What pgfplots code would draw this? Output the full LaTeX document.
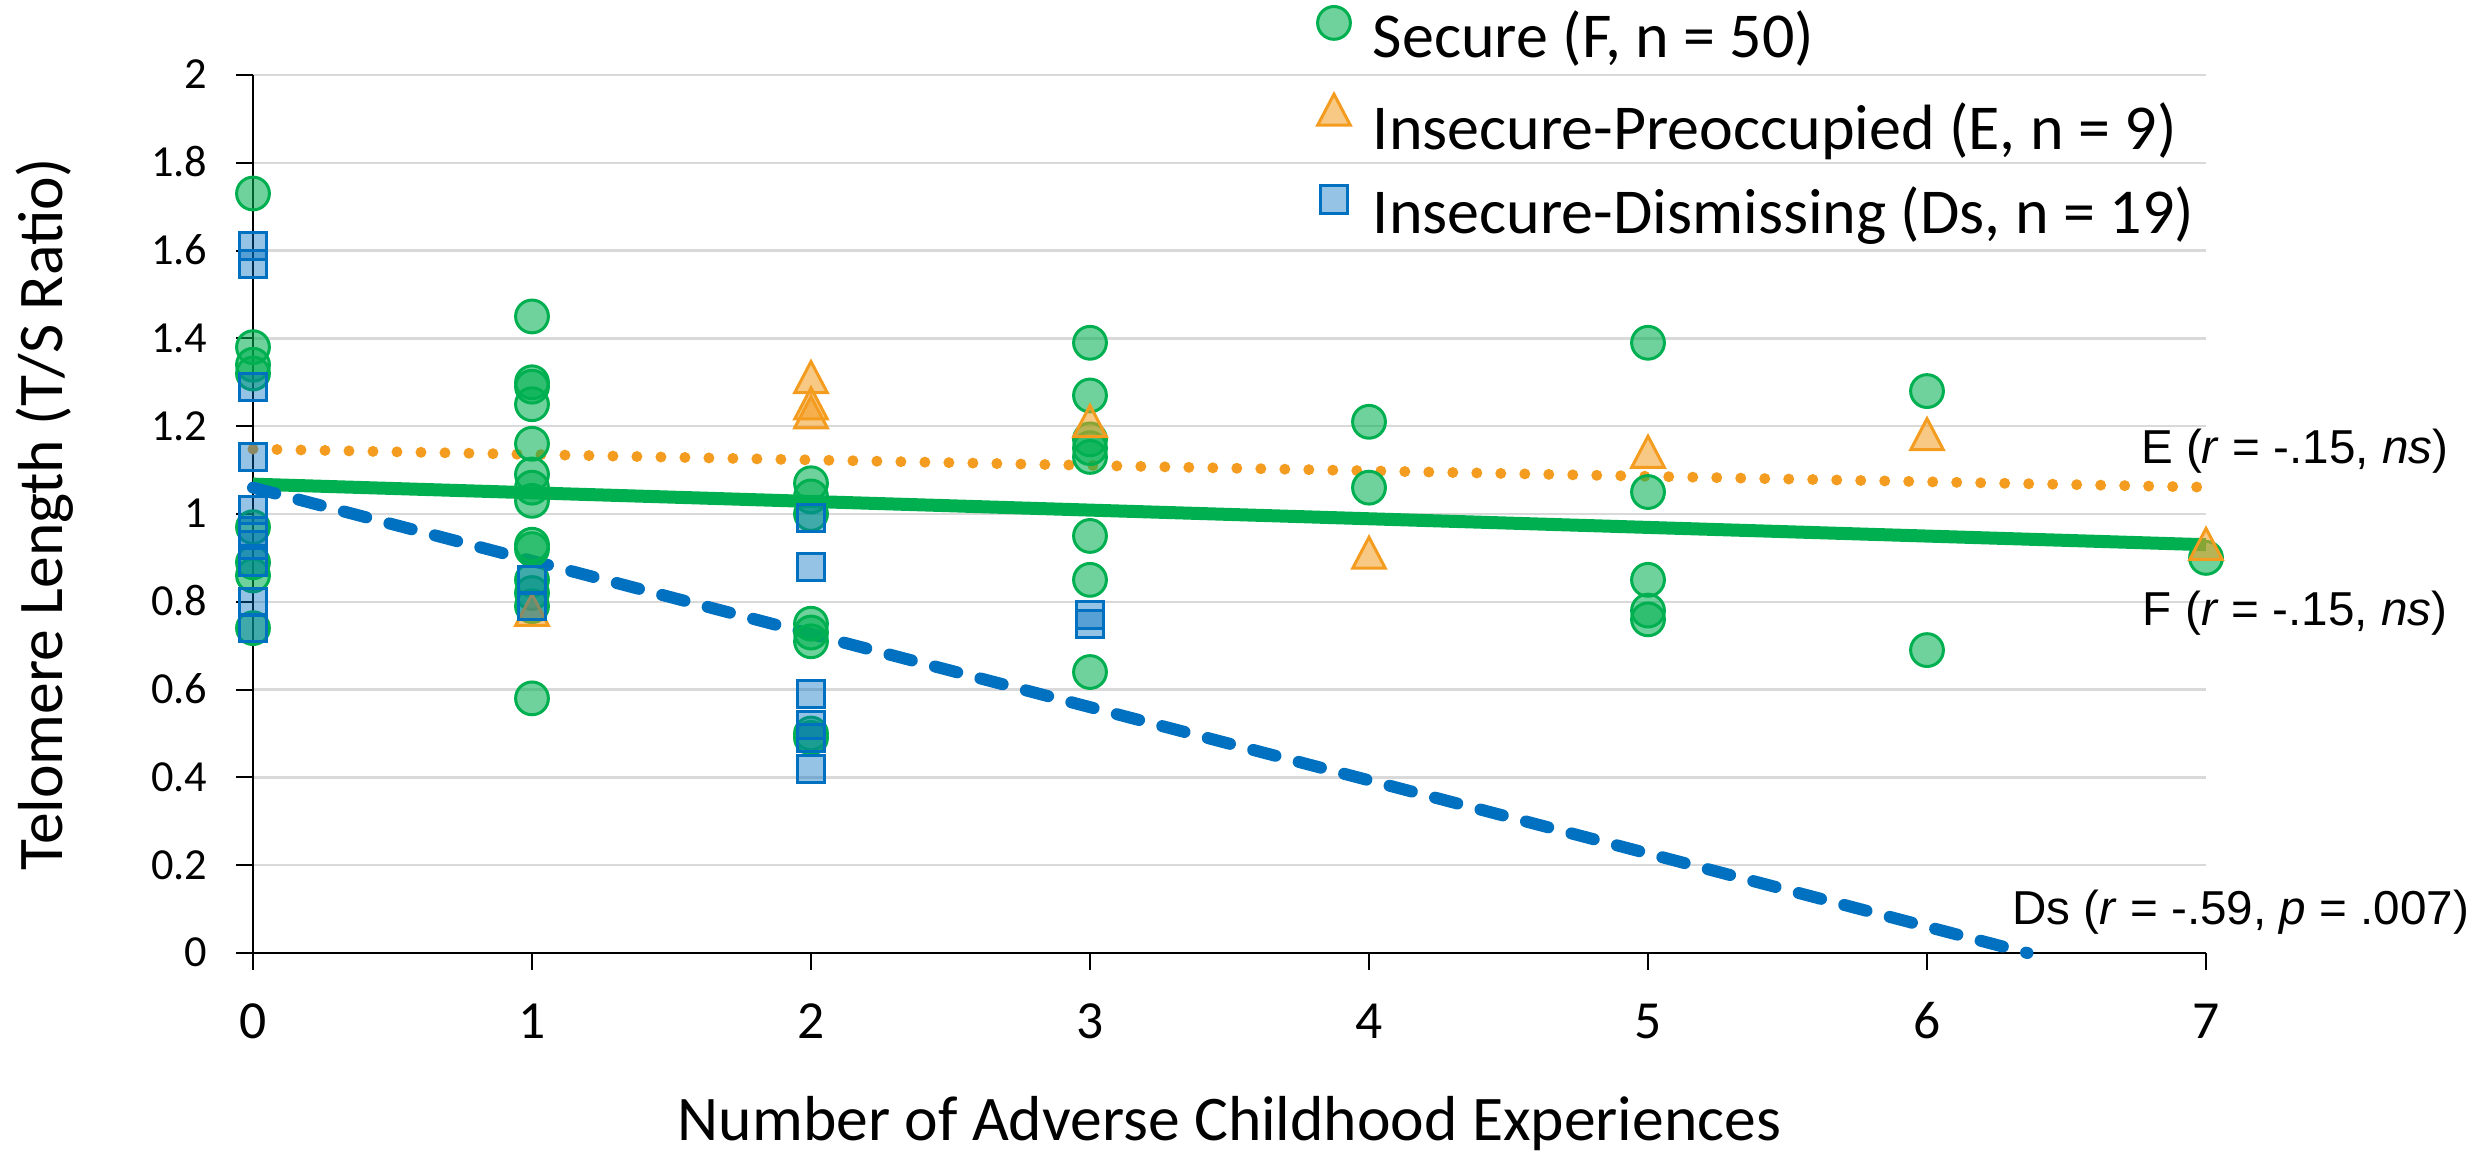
\documentclass[border=0pt]{standalone}
\usepackage{fontspec}
\setmainfont{Carlito}
\newfontfamily\arial{Liberation Sans}
\usepackage{pgfplots}
\pgfplotsset{compat=1.18}
\definecolor{cgreen}{HTML}{00B050}
\definecolor{corange}{HTML}{F39C1F}
\definecolor{cblue}{HTML}{0070C0}
\definecolor{cgrid}{HTML}{D9D9D9}
\begin{document}
\begin{tikzpicture}
\useasboundingbox (-63.25pt,-50.25pt) rectangle (556.5pt,238.25pt);
\begin{axis}[
  at={(0pt,0pt)}, anchor=south west,
  scale only axis, width=488.25pt, height=219.5pt,
  xmin=0, xmax=7, ymin=0, ymax=2,
  axis x line=bottom, axis y line=left,
  axis line style={-, black, line width=0.5pt},
  xtick={0,1,2,3,4,5,6,7},
  ytick={0,0.2,0.4,0.6,0.8,1,1.2,1.4,1.6,1.8,2},
  ymajorgrids, major grid style={cgrid, line width=0.6pt},
  tick align=outside, major tick length=4.2pt,
  tick style={black, line width=0.5pt},
  /pgf/number format/assume math mode=true,
  yticklabel style={font=\fontsize{11.1}{13}\selectfont, anchor=east, inner sep=0pt, text height=7pt, text depth=0pt, xshift=-7pt},
  xticklabel style={font=\fontsize{13.4}{15}\selectfont, anchor=north, inner sep=0pt, text height=8.5pt, text depth=0pt, yshift=-8.5pt},
  xlabel={Number of Adverse Childhood Experiences},
  ylabel={Telomere Length (T/S Ratio)},
  label style={font=\fontsize{15.9}{18}\selectfont},
  xlabel style={at={(axis description cs:0.5,-0.213)}, anchor=base},
  ylabel style={at={(axis description cs:-0.0978,0.5)}, anchor=base},
  clip=false,
  legend style={at={(axis description cs:0.5451,1.0780)}, anchor=north west, draw=none, fill=none, inner sep=0pt, outer sep=0pt, font=\fontsize{16}{19}\selectfont, row sep=5.2pt, column sep=5.65pt, nodes={inner sep=0pt, text height=11pt, text depth=4pt}},
  legend cell align=left,
  legend image code/.code={\draw[#1] plot coordinates {(0pt,5.1pt)};},
]
\addplot[color=cgreen, only marks, mark=*, mark size=4.1pt, mark options={draw=cgreen, fill=cgreen, fill opacity=0.565, line width=0.75pt}] coordinates {
(0,1.73)(0,1.38)(0,1.34)(0,1.32)(0,0.97)(0,0.89)(0,0.86)(0,0.74)
(1,1.45)(1,1.30)(1,1.29)(1,1.25)(1,1.16)(1,1.09)(1,1.06)(1,1.03)(1,0.93)(1,0.92)(1,0.85)(1,0.82)(1,0.79)(1,0.58)
(2,1.07)(2,1.04)(2,1.00)(2,0.75)(2,0.73)(2,0.71)(2,0.50)(2,0.49)
(3,1.39)(3,1.27)(3,1.17)(3,1.15)(3,1.13)(3,0.95)(3,0.85)(3,0.64)
(4,1.21)(4,1.06)
(5,1.39)(5,1.05)(5,0.85)(5,0.78)(5,0.76)
(6,1.28)(6,0.69)
(7,0.90)
};
\addlegendentry{Secure (F, n = 50)}
\addplot[color=corange, only marks, mark=triangle*, mark size=4.7pt, mark options={draw=corange, fill=corange, fill opacity=0.55, line width=0.75pt, yscale=1.1}] coordinates {
(1,0.77)(2,1.30)(2,1.24)(2,1.22)(3,1.20)(4,0.90)(5,1.13)(6,1.17)(7,0.92)
};
\addlegendentry{Insecure-Preoccupied (E, n = 9)}
\addplot[color=cblue, only marks, mark=square*, mark size=3.4pt, mark options={draw=cblue, fill=cblue, fill opacity=0.42, line width=0.75pt}] coordinates {
(0,1.61)(0,1.57)(0,1.29)(0,1.13)(0,1.01)(0,0.96)(0,0.93)(0,0.89)(0,0.80)(0,0.74)
(1,0.85)(1,0.79)
(2,0.99)(2,0.88)(2,0.59)(2,0.52)(2,0.49)(2,0.42)
(3,0.77)(3,0.75)
};
\addlegendentry{Insecure-Dismissing (Ds, n = 19)}
\addplot[forget plot, color=corange, line width=2.75pt, line cap=round, dash pattern=on 0pt off 6pt] coordinates {(0,1.148)(7,1.061)};
\addplot[forget plot, color=cgreen, line width=3.25pt] coordinates {(0,1.068)(7,0.930)};
\addplot[forget plot, color=cblue, line width=3pt, line cap=round, dash pattern=on 5.75pt off 6pt] coordinates {(0,1.06)(6.36,0)};
\node[anchor=base east, inner sep=0pt, font=\arial\fontsize{11.9}{14}\selectfont] at (axis cs:7.871,1.114) {E (\textit{r} = -.15, \textit{ns})};
\node[anchor=base east, inner sep=0pt, font=\arial\fontsize{11.9}{14}\selectfont] at (axis cs:7.868,0.747) {F (\textit{r} = -.15, \textit{ns})};
\node[anchor=base east, inner sep=0pt, font=\arial\fontsize{11.9}{14}\selectfont] at (axis cs:7.946,0.0638) {Ds (\textit{r} = -.59, \textit{p} = .007)};
\end{axis}
\end{tikzpicture}
\end{document}
